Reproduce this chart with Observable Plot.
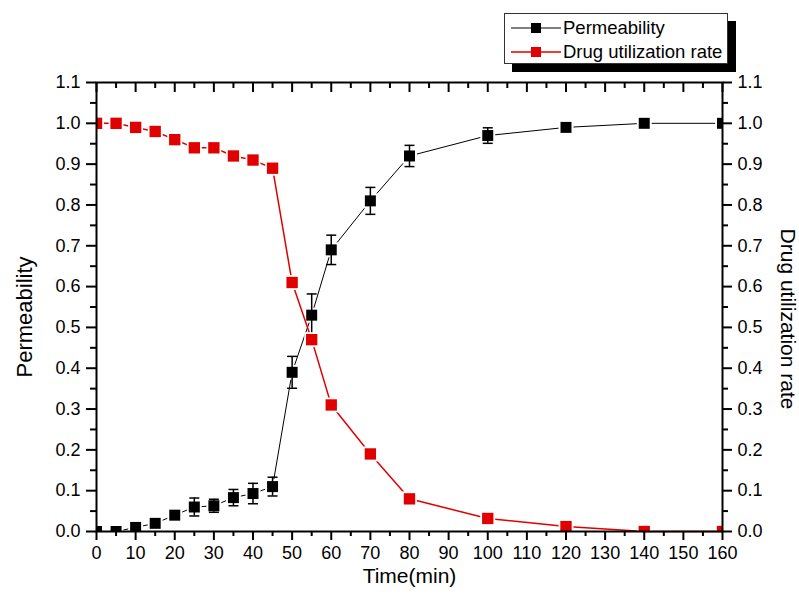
<!DOCTYPE html>
<html><head><meta charset="utf-8">
<script src="https://cdn.jsdelivr.net/npm/d3@7"></script>
<script src="https://cdn.jsdelivr.net/npm/@observablehq/plot@0.6"></script>
<style>
body{margin:0;background:#fff;font-family:Arial,"Liberation Sans",sans-serif;}
#wrap{position:relative;width:799px;height:606px;}
#legend{position:absolute;left:504px;top:13px;width:222px;height:49px;background:#fff;border:1.5px solid #333;box-shadow:8px 8px 0 #000;font-size:18.5px;color:#000;}
.row{position:absolute;left:0;height:24px;display:flex;align-items:center;}
.row svg{margin-left:6px;margin-right:2px;}
</style></head><body><div id="wrap"><div id="legend"></div></div>
<script>
const time = [0,5,10,15,20,25,30,35,40,45,50,55,60,70,80,100,120,140,160];
const permeability = [0,0,0.01,0.02,0.04,0.06,0.063,0.083,0.093,0.11,0.39,0.53,0.69,0.81,0.92,0.97,0.99,1.0,1.0];
const permeabilityErr = [0,0,0,0,0,0.022,0.016,0.02,0.025,0.023,0.039,0.052,0.036,0.033,0.026,0.019,0,0,0];
const drugRate = [1.0,1.0,0.99,0.98,0.96,0.94,0.94,0.92,0.91,0.89,0.61,0.47,0.31,0.19,0.08,0.032,0.012,0,0];
const seriesNames = ["Permeability","Drug utilization rate"];
const seriesColors = ["#000000","#e00000"];
const xTicks = [0,10,20,30,40,50,60,70,80,90,100,110,120,130,140,150,160];
const xMinor = [5,15,25,35,45,55,65,75,85,95,105,115,125,135,145,155];
const yTicks = [0,0.1,0.2,0.3,0.4,0.5,0.6,0.7,0.8,0.9,1.0,1.1];
const yMinor = [0.05,0.15,0.25,0.35,0.45,0.55,0.65,0.75,0.85,0.95,1.05];
const xTitle = "Time(min)";

const rows = time.map((t,i)=>({t, p: permeability[i], e: permeabilityErr[i], d: drugRate[i]}));
const errRows = rows.filter(r=>r.e>0);
const cap = {draw(ctx,size){const w=Math.sqrt(size/Math.PI); ctx.moveTo(-w,0); ctx.lineTo(w,0);}};

const W=799, H=606, mL=96, mR=77, mT=82, mB=75;
const frameH = H-mT-mB;
const font = "Arial, 'Liberation Sans', sans-serif";

const chart = Plot.plot({
  width: W, height: H,
  marginLeft: mL, marginRight: mR, marginTop: mT, marginBottom: mB,
  style: {fontFamily: font, background: "#fff", color: "#000"},
  x: {domain: [0,160]},
  y: {domain: [0,1.1]},
  marks: [
    // series 1
    Plot.line(rows, {x:"t", y:"p", stroke: seriesColors[0], strokeWidth: 1}),
    Plot.dot(rows, {x:"t", y:"p", symbol:"square", r:8.4, fill:"#fff", stroke:null, clip:true}),
    Plot.ruleX(errRows, {x:"t", y1:d=>d.p-d.e, y2:d=>d.p+d.e, stroke: seriesColors[0], strokeWidth:1.5}),
    Plot.dot(errRows, {x:"t", y:d=>d.p+d.e, symbol:cap, r:5, stroke: seriesColors[0], strokeWidth:1.5}),
    Plot.dot(errRows, {x:"t", y:d=>d.p-d.e, symbol:cap, r:5, stroke: seriesColors[0], strokeWidth:1.5}),
    Plot.dot(rows, {x:"t", y:"p", symbol:"square", r:6.2, fill: seriesColors[0], stroke:null, clip:true}),
    // series 2
    Plot.line(rows, {x:"t", y:"d", stroke: seriesColors[1], strokeWidth: 1.5}),
    Plot.dot(rows, {x:"t", y:"d", symbol:"square", r:8.4, fill:"#fff", stroke:null, clip:true}),
    Plot.dot(rows, {x:"t", y:"d", symbol:"square", r:6.4, fill: seriesColors[1], stroke:null, clip:true}),
    // axes
    Plot.axisX({anchor:"bottom", ticks: xTicks, tickSize: 9, tickPadding: 6, fontSize: 18, strokeWidth: 2, label: null, tickFormat: d=>String(d)}),
    Plot.axisX({anchor:"bottom", ticks: xMinor, tickSize: 5, strokeWidth: 2, label: null, tickFormat: null, text: null}),
    Plot.tickX(xTicks, {x: d=>d, insetBottom: frameH-10, strokeWidth: 2}),
    Plot.tickX(xMinor, {x: d=>d, insetBottom: frameH-6, strokeWidth: 2}),
    Plot.axisY({anchor:"left", ticks: yTicks, tickSize: 10, tickPadding: 6, fontSize: 18, strokeWidth: 2, label: null, tickFormat: d=>d.toFixed(1)}),
    Plot.axisY({anchor:"left", ticks: yMinor, tickSize: 6, strokeWidth: 2, label: null, text: null}),
    Plot.axisY({anchor:"right", ticks: yTicks, tickSize: 9, tickPadding: 6, fontSize: 18, strokeWidth: 2, label: null, tickFormat: d=>d.toFixed(1)}),
    Plot.axisY({anchor:"right", ticks: yMinor, tickSize: 5, strokeWidth: 2, label: null, text: null}),
    Plot.frame({stroke:"#000", strokeWidth: 2}),
    // titles
    Plot.text([xTitle], {frameAnchor:"bottom", textAnchor:"middle", lineAnchor:"top", dy: 37, fontSize: 21, text: d=>d}),
    Plot.text([seriesNames[0]], {frameAnchor:"left", textAnchor:"middle", rotate:-90, dx: -72, dy: 10, fontSize: 22, text: d=>d}),
    Plot.text([seriesNames[1]], {frameAnchor:"right", textAnchor:"middle", rotate:90, dx: 65, dy: 12, fontSize: 21, text: d=>d})
  ]
});
const wrap = document.getElementById("wrap");
wrap.insertBefore(chart, wrap.firstChild);

const legend = document.getElementById("legend");
seriesNames.forEach((name,i)=>{
  const row = document.createElement("div");
  row.className = "row";
  row.style.top = (i===0 ? 2 : 26) + "px";
  const c = seriesColors[i];
  row.innerHTML = `<svg width="50" height="14"><line x1="0" y1="7" x2="20" y2="7" stroke="${c}" stroke-width="${i?1.5:1}"/><rect x="20" y="2" width="10" height="10" fill="${c}"/><line x1="30" y1="7" x2="50" y2="7" stroke="${c}" stroke-width="${i?1.5:1}"/></svg><span>${name}</span>`;
  legend.appendChild(row);
});
</script></body></html>
